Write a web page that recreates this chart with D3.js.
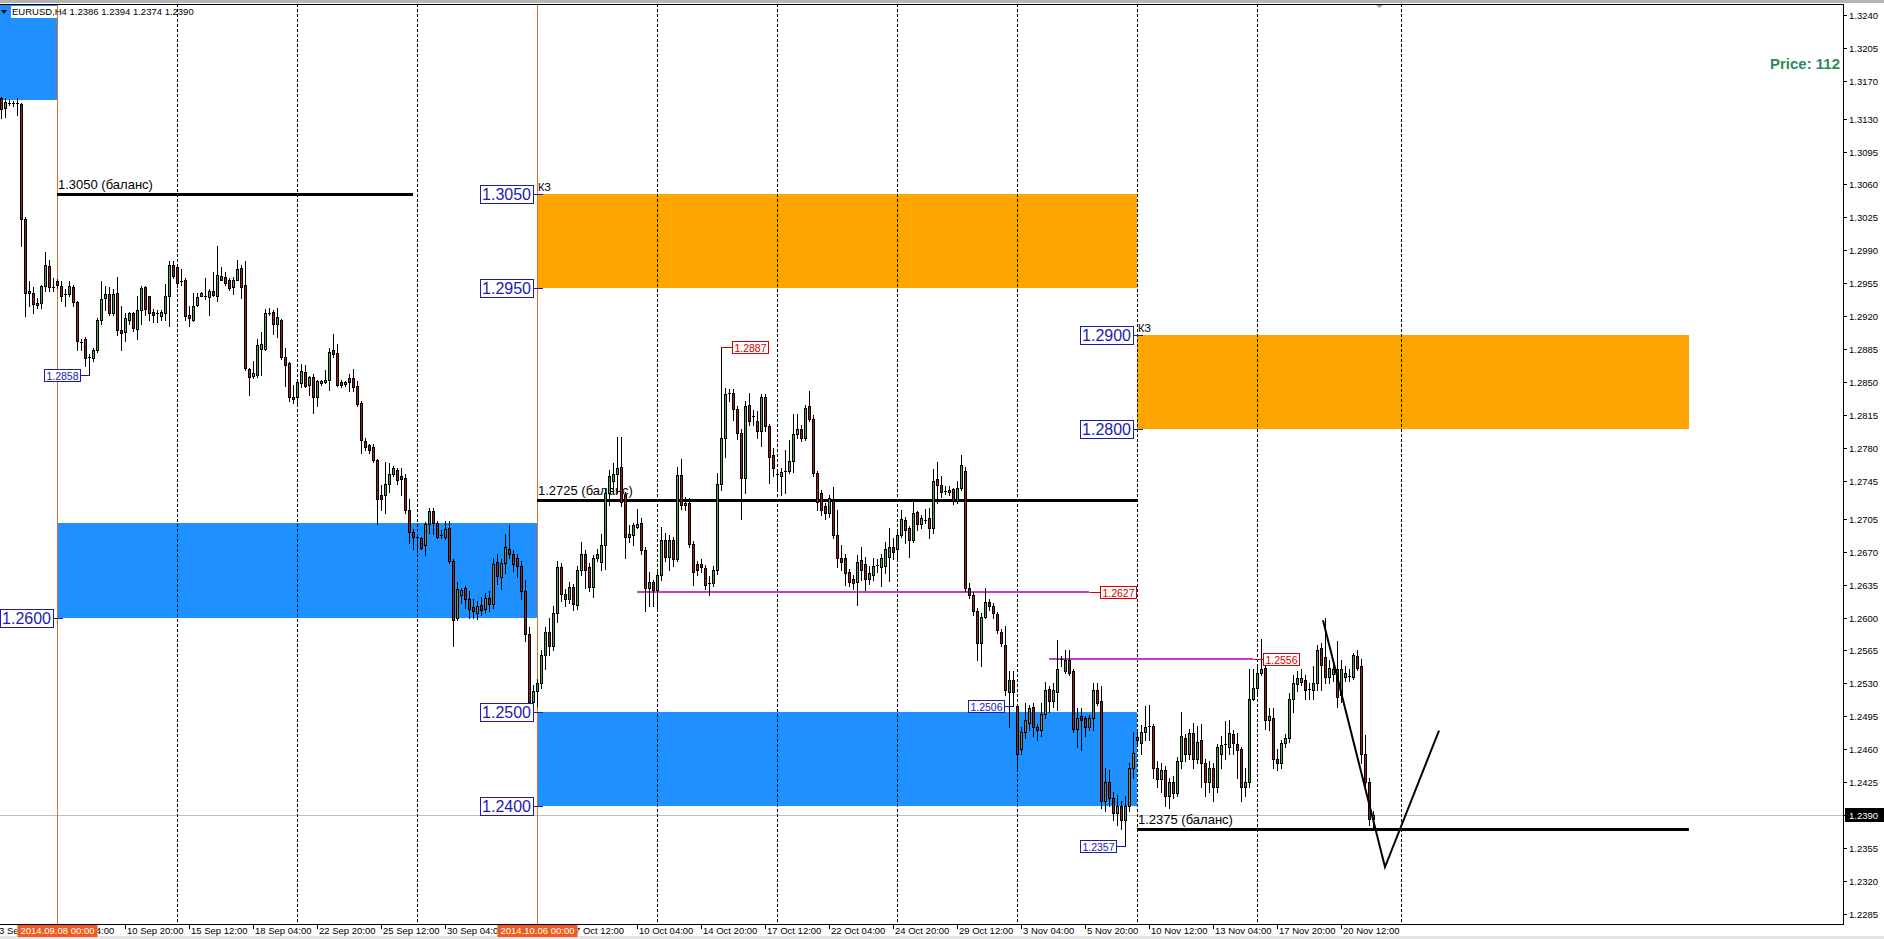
<!DOCTYPE html>
<meta charset="utf-8">
<style>
    body { margin: 0; background: #fff; }
    svg { display: block; font-family: "Liberation Sans", Arial, sans-serif; }
</style>
<svg width="1884" height="939"></svg>
<script src="https://d3js.org/d3.v7.min.js"></script>
<script>

// EURUSD H4, bar 0 = 3 Sep 2014 16:00, 6 bars a day, no weekend bars
var opens = [
1.3152,1.3141,1.3147,1.3146,1.3146,1.3145,1.3023,1.2945,1.2945,1.2932,
1.2934,1.2952,1.2973,1.2951,1.2957,1.2952,1.2943,1.2944,1.2951,1.2935,
1.2893,1.2896,1.2876,1.2876,1.2884,1.2916,1.2939,1.2944,1.2923,1.2945,
1.2905,1.2903,1.2916,1.2924,1.2906,1.2927,1.2951,1.2941,1.2925,1.2923,
1.2920,1.2924,1.2942,1.2974,1.2972,1.2957,1.2958,1.2921,1.2916,1.2932,
1.2942,1.2941,1.2940,1.2947,1.2942,1.2963,1.2962,1.2959,1.2951,1.2959,
1.2971,1.2953,1.2864,1.2857,1.2858,1.2885,1.2885,1.2923,1.2925,1.2912,
1.2916,1.2877,1.2870,1.2834,1.2834,1.2849,1.2861,1.2847,1.2856,1.2834,
1.2849,1.2850,1.2852,1.2884,1.2881,1.2850,1.2848,1.2854,1.2854,1.2846,
1.2828,1.2787,1.2783,1.2781,1.2767,1.2730,1.2730,1.2742,1.2752,1.2757,
1.2750,1.2748,1.2714,1.2691,1.2686,1.2684,1.2677,1.2699,1.2713,1.2700,
1.2687,1.2686,1.2695,1.2660,1.2599,1.2624,1.2631,1.2620,1.2611,1.2605,
1.2613,1.2609,1.2621,1.2614,1.2659,1.2643,1.2658,1.2673,1.2667,1.2663,
1.2655,1.2628,1.2582,1.2510,1.2522,1.2530,1.2560,1.2585,1.2570,1.2605,
1.2654,1.2625,1.2620,1.2632,1.2613,1.2650,1.2668,1.2654,1.2632,1.2663,
1.2659,1.2677,1.2732,1.2745,1.2752,1.2760,1.2730,1.2686,1.2688,1.2696,
1.2700,1.2672,1.2631,1.2638,1.2629,1.2645,1.2682,1.2664,1.2682,1.2662,
1.2751,1.2720,1.2722,1.2678,1.2657,1.2657,1.2653,1.2636,1.2637,1.2651,
1.2742,1.2791,1.2837,1.2838,1.2822,1.2796,1.2748,1.2826,1.2813,1.2809,
1.2798,1.2834,1.2803,1.2773,1.2752,1.2750,1.2755,1.2756,1.2766,1.2795,
1.2800,1.2791,1.2825,1.2811,1.2754,1.2732,1.2718,1.2711,1.2725,1.2688,
1.2663,1.2663,1.2648,1.2641,1.2638,1.2661,1.2657,1.2641,1.2645,1.2655,
1.2654,1.2655,1.2664,1.2675,1.2673,1.2688,1.2704,1.2695,1.2682,1.2712,
1.2699,1.2704,1.2706,1.2695,1.2747,1.2741,1.2734,1.2733,1.2736,1.2724,
1.2738,1.2756,1.2631,1.2624,1.2607,1.2573,1.2601,1.2616,1.2612,1.2604,
1.2585,1.2571,1.2521,1.2534,1.2506,1.2460,1.2478,1.2488,1.2505,1.2484,
1.2481,1.2498,1.2524,1.2511,1.2521,1.2556,1.2543,1.2555,1.2543,1.2482,
1.2495,1.2493,1.2484,1.2493,1.2523,1.2511,1.2405,1.2425,1.2408,1.2392,
1.2400,1.2385,1.2400,1.2440,1.2473,1.2467,1.2478,1.2484,1.2485,1.2440,
1.2428,1.2438,1.2410,1.2425,1.2414,1.2448,1.2472,1.2455,1.2477,1.2450,
1.2470,1.2445,1.2425,1.2440,1.2420,1.2455,1.2465,1.2463,1.2476,1.2466,
1.2460,1.2420,1.2425,1.2514,1.2525,1.2541,1.2546,1.2491,1.2493,1.2450,
1.2445,1.2467,1.2472,1.2514,1.2529,1.2532,1.2534,1.2523,1.2523,1.2530,
1.2568,1.2558,1.2537,1.2540,1.2545,1.2518,1.2537,1.2538,1.2537,1.2559,
1.2549,1.2455,1.2425,1.2386];

var highs = [
1.3153,1.3152,1.3150,1.3149,1.3152,1.3147,1.3025,1.2957,1.2951,1.2939,
1.2953,1.2988,1.2980,1.2961,1.2960,1.2957,1.2949,1.2957,1.2953,1.2936,
1.2896,1.2898,1.2880,1.2886,1.2918,1.2957,1.2952,1.2951,1.2949,1.2962,
1.2931,1.2923,1.2925,1.2925,1.2941,1.2952,1.2952,1.2942,1.2928,1.2927,
1.2927,1.2954,1.2979,1.2979,1.2974,1.2970,1.2961,1.2931,1.2945,1.2945,
1.2946,1.2961,1.2949,1.2967,1.2995,1.2972,1.2967,1.2961,1.2962,1.2980,
1.2974,1.2979,1.2865,1.2873,1.2896,1.2903,1.2928,1.2929,1.2927,1.2929,
1.2917,1.2886,1.2871,1.2847,1.2851,1.2869,1.2868,1.2857,1.2859,1.2852,
1.2852,1.2863,1.2886,1.2901,1.2891,1.2852,1.2851,1.2859,1.2864,1.2851,
1.2830,1.2791,1.2784,1.2784,1.2768,1.2741,1.2765,1.2764,1.2761,1.2759,
1.2759,1.2752,1.2726,1.2694,1.2689,1.2686,1.2701,1.2716,1.2716,1.2703,
1.2693,1.2703,1.2703,1.2662,1.2638,1.2631,1.2633,1.2628,1.2620,1.2618,
1.2622,1.2626,1.2628,1.2663,1.2668,1.2662,1.2689,1.2698,1.2672,1.2668,
1.2660,1.2640,1.2590,1.2528,1.2535,1.2565,1.2590,1.2600,1.2612,1.2660,
1.2658,1.2630,1.2638,1.2636,1.2655,1.2680,1.2672,1.2658,1.2666,1.2673,
1.2689,1.2736,1.2757,1.2764,1.2792,1.2792,1.2733,1.2698,1.2700,1.2715,
1.2706,1.2675,1.2648,1.2640,1.2651,1.2696,1.2690,1.2688,1.2686,1.2760,
1.2768,1.2728,1.2727,1.2681,1.2660,1.2662,1.2656,1.2644,1.2655,1.2753,
1.2887,1.2844,1.2843,1.2843,1.2825,1.2800,1.2830,1.2839,1.2820,1.2819,
1.2837,1.2837,1.2806,1.2780,1.2757,1.2759,1.2778,1.2789,1.2816,1.2816,
1.2805,1.2826,1.2841,1.2815,1.2756,1.2735,1.2722,1.2730,1.2739,1.2714,
1.2677,1.2667,1.2652,1.2645,1.2666,1.2675,1.2664,1.2655,1.2663,1.2662,
1.2668,1.2680,1.2695,1.2685,1.2691,1.2714,1.2707,1.2697,1.2723,1.2713,
1.2709,1.2715,1.2716,1.2758,1.2765,1.2750,1.2740,1.2740,1.2738,1.2745,
1.2773,1.2760,1.2637,1.2627,1.2610,1.2605,1.2631,1.2620,1.2615,1.2606,
1.2588,1.2591,1.2543,1.2543,1.2506,1.2484,1.2509,1.2507,1.2509,1.2487,
1.2509,1.2532,1.2527,1.2530,1.2576,1.2559,1.2566,1.2566,1.2545,1.2504,
1.2504,1.2495,1.2497,1.2530,1.2530,1.2527,1.2440,1.2438,1.2415,1.2412,
1.2405,1.2410,1.2445,1.2478,1.2478,1.2486,1.2506,1.2507,1.2487,1.2448,
1.2445,1.2442,1.2430,1.2432,1.2452,1.2500,1.2476,1.2482,1.2488,1.2485,
1.2487,1.2450,1.2448,1.2445,1.2466,1.2474,1.2490,1.2491,1.2481,1.2477,
1.2463,1.2440,1.2545,1.2545,1.2551,1.2577,1.2548,1.2504,1.2504,1.2460,
1.2470,1.2476,1.2520,1.2539,1.2543,1.2545,1.2539,1.2530,1.2548,1.2571,
1.2573,1.2599,1.2555,1.2552,1.2575,1.2555,1.2548,1.2545,1.2562,1.2566,
1.2556,1.2475,1.2430,1.2394];

var lows = [
1.3131,1.3132,1.3144,1.3143,1.3134,1.2995,1.2920,1.2931,1.2923,1.2929,
1.2929,1.2947,1.2947,1.2947,1.2950,1.2936,1.2931,1.2942,1.2931,1.2884,
1.2884,1.2867,1.2858,1.2873,1.2882,1.2912,1.2927,1.2921,1.2921,1.2900,
1.2884,1.2894,1.2912,1.2904,1.2896,1.2912,1.2921,1.2916,1.2914,1.2914,
1.2916,1.2916,1.2910,1.2961,1.2951,1.2953,1.2916,1.2910,1.2915,1.2931,
1.2941,1.2938,1.2921,1.2942,1.2936,1.2958,1.2953,1.2948,1.2944,1.2958,
1.2939,1.2863,1.2836,1.2854,1.2856,1.2858,1.2884,1.2921,1.2901,1.2898,
1.2875,1.2846,1.2830,1.2828,1.2825,1.2845,1.2845,1.2836,1.2817,1.2825,
1.2847,1.2849,1.2842,1.2877,1.2846,1.2845,1.2846,1.2841,1.2841,1.2825,
1.2775,1.2778,1.2775,1.2765,1.2699,1.2714,1.2711,1.2733,1.2750,1.2742,
1.2730,1.2711,1.2679,1.2673,1.2670,1.2673,1.2666,1.2690,1.2689,1.2685,
1.2684,1.2683,1.2658,1.2570,1.2597,1.2615,1.2610,1.2600,1.2600,1.2598,
1.2603,1.2605,1.2607,1.2610,1.2636,1.2630,1.2647,1.2663,1.2649,1.2643,
1.2620,1.2575,1.2501,1.2505,1.2506,1.2525,1.2545,1.2560,1.2565,1.2595,
1.2618,1.2612,1.2615,1.2608,1.2609,1.2645,1.2631,1.2628,1.2622,1.2660,
1.2650,1.2652,1.2720,1.2735,1.2732,1.2718,1.2663,1.2680,1.2677,1.2695,
1.2668,1.2607,1.2612,1.2612,1.2610,1.2640,1.2660,1.2650,1.2655,1.2660,
1.2715,1.2714,1.2675,1.2635,1.2645,1.2648,1.2630,1.2624,1.2633,1.2646,
1.2735,1.2771,1.2830,1.2810,1.2790,1.2705,1.2732,1.2805,1.2805,1.2791,
1.2782,1.2798,1.2743,1.2750,1.2734,1.2730,1.2732,1.2754,1.2755,1.2791,
1.2787,1.2789,1.2809,1.2750,1.2714,1.2709,1.2705,1.2707,1.2684,1.2654,
1.2650,1.2635,1.2634,1.2630,1.2613,1.2640,1.2629,1.2636,1.2640,1.2648,
1.2634,1.2647,1.2639,1.2662,1.2663,1.2686,1.2679,1.2664,1.2680,1.2693,
1.2695,1.2700,1.2685,1.2690,1.2722,1.2728,1.2731,1.2730,1.2721,1.2722,
1.2735,1.2628,1.2621,1.2603,1.2555,1.2548,1.2599,1.2608,1.2600,1.2584,
1.2570,1.2518,1.2484,1.2506,1.2440,1.2455,1.2472,1.2481,1.2474,1.2470,
1.2474,1.2493,1.2500,1.2505,1.2502,1.2548,1.2541,1.2539,1.2478,1.2463,
1.2459,1.2474,1.2481,1.2481,1.2507,1.2398,1.2395,1.2400,1.2385,1.2380,
1.2375,1.2357,1.2395,1.2430,1.2466,1.2455,1.2470,1.2470,1.2430,1.2420,
1.2415,1.2400,1.2398,1.2408,1.2410,1.2440,1.2448,1.2450,1.2440,1.2445,
1.2420,1.2410,1.2415,1.2405,1.2415,1.2440,1.2450,1.2455,1.2455,1.2430,
1.2405,1.2410,1.2420,1.2512,1.2520,1.2539,1.2482,1.2481,1.2440,1.2438,
1.2440,1.2462,1.2468,1.2500,1.2522,1.2528,1.2513,1.2513,1.2513,1.2523,
1.2523,1.2530,1.2530,1.2533,1.2505,1.2510,1.2533,1.2533,1.2535,1.2544,
1.2445,1.2420,1.2380,1.2374];

var closes = [
1.3140,1.3148,1.3146,1.3146,1.3145,1.3023,1.2945,1.2947,1.2933,1.2934,
1.2952,1.2974,1.2951,1.2951,1.2953,1.2942,1.2944,1.2952,1.2935,1.2894,
1.2892,1.2876,1.2877,1.2884,1.2916,1.2938,1.2944,1.2923,1.2944,1.2905,
1.2902,1.2918,1.2923,1.2908,1.2927,1.2950,1.2928,1.2923,1.2921,1.2922,
1.2925,1.2942,1.2974,1.2963,1.2955,1.2956,1.2920,1.2918,1.2931,1.2940,
1.2945,1.2940,1.2947,1.2943,1.2964,1.2959,1.2955,1.2950,1.2959,1.2970,
1.2951,1.2865,1.2855,1.2860,1.2890,1.2891,1.2923,1.2924,1.2912,1.2919,
1.2877,1.2868,1.2834,1.2832,1.2850,1.2862,1.2846,1.2856,1.2834,1.2851,
1.2851,1.2852,1.2882,1.2880,1.2847,1.2847,1.2850,1.2850,1.2845,1.2827,
1.2789,1.2781,1.2778,1.2767,1.2726,1.2726,1.2742,1.2752,1.2759,1.2746,
1.2747,1.2714,1.2691,1.2686,1.2685,1.2674,1.2699,1.2713,1.2700,1.2686,
1.2688,1.2694,1.2660,1.2597,1.2630,1.2629,1.2620,1.2609,1.2607,1.2612,
1.2608,1.2621,1.2614,1.2657,1.2644,1.2658,1.2675,1.2668,1.2657,1.2655,
1.2628,1.2582,1.2510,1.2522,1.2530,1.2560,1.2585,1.2570,1.2605,1.2654,
1.2625,1.2620,1.2632,1.2614,1.2650,1.2668,1.2650,1.2632,1.2663,1.2668,
1.2677,1.2732,1.2750,1.2752,1.2759,1.2723,1.2686,1.2689,1.2698,1.2699,
1.2672,1.2631,1.2638,1.2629,1.2645,1.2682,1.2664,1.2682,1.2662,1.2751,
1.2720,1.2722,1.2678,1.2648,1.2650,1.2654,1.2635,1.2637,1.2651,1.2742,
1.2791,1.2837,1.2839,1.2821,1.2796,1.2748,1.2825,1.2809,1.2814,1.2798,
1.2834,1.2803,1.2771,1.2759,1.2752,1.2755,1.2756,1.2766,1.2795,1.2800,
1.2791,1.2823,1.2811,1.2754,1.2723,1.2714,1.2711,1.2727,1.2688,1.2663,
1.2659,1.2647,1.2638,1.2637,1.2659,1.2650,1.2641,1.2647,1.2655,1.2656,
1.2663,1.2673,1.2675,1.2670,1.2688,1.2705,1.2693,1.2682,1.2711,1.2699,
1.2706,1.2704,1.2695,1.2745,1.2741,1.2733,1.2734,1.2735,1.2724,1.2738,
1.2762,1.2631,1.2624,1.2607,1.2573,1.2601,1.2617,1.2612,1.2605,1.2587,
1.2573,1.2523,1.2534,1.2521,1.2455,1.2478,1.2491,1.2504,1.2484,1.2481,
1.2498,1.2523,1.2511,1.2523,1.2545,1.2555,1.2555,1.2541,1.2482,1.2493,
1.2491,1.2484,1.2493,1.2523,1.2509,1.2405,1.2425,1.2408,1.2392,1.2400,
1.2385,1.2400,1.2440,1.2456,1.2470,1.2478,1.2484,1.2485,1.2440,1.2428,
1.2438,1.2410,1.2425,1.2414,1.2448,1.2474,1.2455,1.2477,1.2450,1.2468,
1.2445,1.2425,1.2440,1.2420,1.2462,1.2465,1.2466,1.2477,1.2467,1.2459,
1.2420,1.2425,1.2514,1.2525,1.2541,1.2545,1.2491,1.2495,1.2450,1.2445,
1.2467,1.2472,1.2514,1.2530,1.2536,1.2536,1.2523,1.2524,1.2530,1.2566,
1.2550,1.2537,1.2546,1.2545,1.2516,1.2545,1.2541,1.2538,1.2560,1.2546,
1.2455,1.2425,1.2386,1.2390];

// time axis labels (bar index -> text)
var timeTickBars = [-1, 15, 31, 47, 63, 79, 95, 111, 127, 143, 159, 175, 191, 207, 223, 239, 255, 271, 287, 303, 319, 335];
var timeTickLabels = ["3 Sep 12:00", "8 Sep 04:00", "10 Sep 20:00", "15 Sep 12:00", "18 Sep 04:00", "22 Sep 20:00",
    "25 Sep 12:00", "30 Sep 04:00", "2 Oct 20:00", "7 Oct 12:00", "10 Oct 04:00", "14 Oct 20:00", "17 Oct 12:00",
    "22 Oct 04:00", "24 Oct 20:00", "29 Oct 12:00", "3 Nov 04:00", "5 Nov 20:00", "10 Nov 12:00", "13 Nov 04:00",
    "17 Nov 20:00", "20 Nov 12:00"];

var priceTicks = [1.3240, 1.3205, 1.3170, 1.3130, 1.3095, 1.3060, 1.3025, 1.2990, 1.2955, 1.2920, 1.2885, 1.2850,
    1.2815, 1.2780, 1.2745, 1.2705, 1.2670, 1.2635, 1.2600, 1.2565, 1.2530, 1.2495, 1.2460, 1.2425, 1.2390,
    1.2355, 1.2320, 1.2285];

// weekly separators (Monday 00:00 bars)
var gridBars = [44, 74, 104, 164, 194, 224, 254, 284, 314, 350];

// vertical lines with their date labels
var vLineBars = [14, 134];
var vLineLabels = ["2014.09.08 00:00", "2014.10.06 00:00"];

// zones: kind "buy" / "sell"
var zoneFrom = [-20, 14, 134, 134, 284];
var zoneTo = [14, 134, 284, 284, 422];
var zoneHigh = [1.3300, 1.2700, 1.3050, 1.2500, 1.2900];
var zoneLow = [1.3150, 1.2600, 1.2950, 1.2400, 1.2800];
var zoneKind = ["buy", "buy", "sell", "buy", "sell"];

// edge price labels of zones
var edgeLabelPrice = [1.2600, 1.3050, 1.2950, 1.2500, 1.2400, 1.2900, 1.2800];
var edgeLabelBar = [14, 134, 134, 134, 134, 284, 284];

// balance lines
var balanceFrom = [14, 134, 284];
var balanceTo = [103, 284, 422];
var balancePrice = [1.3050, 1.2725, 1.2375];

// magenta levels
var levelFrom = [159, 262];
var levelTo = [272, 313];
var levelPrice = [1.2627, 1.2556];

// swing marks
var highMarkBar = [180];
var highMarkPrice = [1.2887];
var lowMarkBar = [22, 253, 281];
var lowMarkPrice = [1.2858, 1.2506, 1.2357];

// hand drawn path
var pathBars = [330.5, 346, 359.5];
var pathPrices = [1.2597, 1.2335, 1.2480];

var symbolInfo = "EURUSD,H4";
var lastPrice = closes[closes.length - 1];
var priceInfo = "Price: 112";

var svg = d3.select("svg"),
    width = +svg.attr("width"),
    height = +svg.attr("height");

var plot = { left: 0, right: 1843, top: 4, bottom: 924 };

var x = d3.scaleLinear().domain([0, 100]).range([1, 401]);
var y = d3.scaleLinear().domain([1.2285, 1.3240]).range([914.1, 15]);
function yr(p) { return Math.round(y(p)); }

var BLUE = "#1e90ff", ORANGE = "#ffa500", LABEL_BLUE = "#1c1caa", LABEL_RED = "#d40000";

// frame
svg.append("rect").attr("width", width).attr("height", height).attr("fill", "#fff");
svg.append("rect").attr("x", 0).attr("y", 0).attr("width", width).attr("height", 3).attr("fill", "#b4b4b4");
svg.append("rect").attr("x", 0).attr("y", 936).attr("width", width).attr("height", 3).attr("fill", "#e4e4e4");

var defs = svg.append("defs");
defs.append("clipPath").attr("id", "plotclip")
    .append("rect")
    .attr("x", plot.left).attr("y", plot.top)
    .attr("width", plot.right - plot.left).attr("height", plot.bottom - plot.top);

var g = svg.append("g").attr("clip-path", "url(#plotclip)");

// zones
g.selectAll("rect.zone")
    .data(d3.range(zoneFrom.length))
    .enter()
    .append("rect")
    .attr("x", function(i) { return Math.round(x(zoneFrom[i])); })
    .attr("width", function(i) { return Math.round(x(zoneTo[i])) - Math.round(x(zoneFrom[i])); })
    .attr("y", function(i) { return yr(zoneHigh[i]); })
    .attr("height", function(i) { return yr(zoneLow[i]) - yr(zoneHigh[i]); })
    .attr("fill", function(i) { return zoneKind[i] === "buy" ? BLUE : ORANGE; });

// current price line
g.append("line")
    .attr("x1", plot.left).attr("x2", plot.right)
    .attr("y1", yr(lastPrice) + 0.5).attr("y2", yr(lastPrice) + 0.5)
    .attr("stroke", "#c0c0c0");

// weekly grid
g.selectAll("line.grid")
    .data(gridBars)
    .enter()
    .append("line")
    .attr("x1", function(d) { return x(d) + 0.5; })
    .attr("x2", function(d) { return x(d) + 0.5; })
    .attr("y1", plot.top).attr("y2", plot.bottom)
    .attr("stroke", "#000")
    .attr("stroke-dasharray", "3,2");

// vertical lines
g.selectAll("line.vline")
    .data(vLineBars)
    .enter()
    .append("line")
    .attr("x1", function(d) { return x(d) + 0.5; })
    .attr("x2", function(d) { return x(d) + 0.5; })
    .attr("y1", plot.top).attr("y2", plot.bottom)
    .attr("stroke", "#e0702c");

// balance lines
balancePrice.forEach(function(p, i) {
    g.append("line")
        .attr("x1", x(balanceFrom[i])).attr("x2", x(balanceTo[i]))
        .attr("y1", yr(p) + 0.5).attr("y2", yr(p) + 0.5)
        .attr("stroke", "#000").attr("stroke-width", 3);
    g.append("text")
        .attr("x", x(balanceFrom[i]) + 1)
        .attr("y", yr(p) - 5)
        .attr("font-size", 13)
        .attr("fill", "#000")
        .text(p.toFixed(4) + " (баланс)");
});

// magenta levels
levelPrice.forEach(function(p, i) {
    g.append("line")
        .attr("x1", x(levelFrom[i])).attr("x2", x(levelTo[i]))
        .attr("y1", yr(p)).attr("y2", yr(p))
        .attr("stroke", "#c83cc8").attr("stroke-width", 2);
});

// candles
var bars = d3.range(opens.length).map(function(i) {
    return { i: i, o: opens[i], h: highs[i], l: lows[i], c: closes[i] };
});

var candle = g.append("g").attr("class", "candles")
    .selectAll("g")
    .data(bars)
    .enter()
    .append("g");

candle.append("line")
    .attr("x1", function(d) { return x(d.i) + 0.5; })
    .attr("x2", function(d) { return x(d.i) + 0.5; })
    .attr("y1", function(d) { return yr(d.h); })
    .attr("y2", function(d) { return yr(d.l) + 1; })
    .attr("stroke", "#000");

candle.each(function(d) {
    var top = yr(Math.max(d.o, d.c)), bot = yr(Math.min(d.o, d.c));
    var sel = d3.select(this);
    if (bot - top < 2) {
        sel.append("line")
            .attr("x1", x(d.i) - 1).attr("x2", x(d.i) + 2)
            .attr("y1", top + 0.5).attr("y2", top + 0.5)
            .attr("stroke", "#000");
    } else {
        sel.append("rect")
            .attr("x", x(d.i) - 0.5).attr("width", 2)
            .attr("y", top + 0.5).attr("height", bot - top)
            .attr("fill", d.c >= d.o ? "#48a048" : "#9a2020")
            .attr("stroke", "#000");
    }
});

// drawn path
g.append("path")
    .datum(d3.range(pathBars.length))
    .attr("d", d3.line()
        .x(function(i) { return x(pathBars[i]); })
        .y(function(i) { return y(pathPrices[i]); }))
    .attr("fill", "none")
    .attr("stroke", "#000")
    .attr("stroke-width", 2);

// "КЗ" tags on sell zones
d3.range(zoneFrom.length).filter(function(i) { return zoneKind[i] === "sell"; }).forEach(function(i) {
    g.append("text")
        .attr("x", x(zoneFrom[i]) + 1)
        .attr("y", yr(zoneHigh[i]) - 3)
        .attr("font-size", 11)
        .text("КЗ");
});

// zone edge labels
edgeLabelPrice.forEach(function(p, i) {
    var right = Math.round(x(edgeLabelBar[i])) - 4, yy = yr(p);
    g.append("line")
        .attr("x1", right).attr("x2", x(edgeLabelBar[i]) + 6)
        .attr("y1", yy + 0.5).attr("y2", yy + 0.5)
        .attr("stroke", LABEL_BLUE);
    g.append("rect")
        .attr("x", right - 53 + 0.5).attr("y", yy - 9 + 0.5)
        .attr("width", 53).attr("height", 18)
        .attr("fill", "#fff").attr("stroke", LABEL_BLUE);
    g.append("text")
        .attr("x", right - 26.5).attr("y", yy + 6)
        .attr("text-anchor", "middle")
        .attr("font-size", 16)
        .attr("fill", LABEL_BLUE)
        .text(p.toFixed(4));
});

// small swing labels
function markLabel(bar, p, color, side) {
    var bx = x(bar) + 0.5, yy = yr(p);
    var bw = 36, left = side > 0 ? Math.round(bx) + 10 : Math.round(bx) - 10 - bw;
    g.append("line")
        .attr("x1", bx).attr("x2", side > 0 ? left : left + bw)
        .attr("y1", yy + 0.5).attr("y2", yy + 0.5)
        .attr("stroke", color);
    g.append("rect")
        .attr("x", left + 0.5).attr("y", yy - 6 + 0.5)
        .attr("width", bw).attr("height", 12)
        .attr("fill", "#fff").attr("stroke", color);
    g.append("text")
        .attr("x", left + bw / 2 + 0.5).attr("y", yy + 4.5)
        .attr("text-anchor", "middle")
        .attr("font-size", 10.5)
        .attr("fill", color)
        .text(p.toFixed(4));
}
highMarkBar.forEach(function(b, i) { markLabel(b, highMarkPrice[i], LABEL_RED, 1); });
levelPrice.forEach(function(p, i) { markLabel(levelTo[i], p, LABEL_RED, 1); });
lowMarkBar.forEach(function(b, i) { markLabel(b, lowMarkPrice[i], LABEL_BLUE, -1); });

// header
svg.append("path")
    .attr("d", "M1,10 L7,10 L4,14 Z")
    .attr("fill", "#000");
svg.append("rect")
    .attr("x", 11).attr("y", 6).attr("width", 46).attr("height", 12)
    .attr("fill", "#fff");
svg.append("text")
    .attr("x", 12).attr("y", 15)
    .attr("font-size", 9.5)
    .text(symbolInfo + "  " + [opens[opens.length - 1], highs[highs.length - 1], lows[lows.length - 1], lastPrice]
        .map(function(v) { return v.toFixed(4); }).join(" "));

svg.append("text")
    .attr("x", 1840).attr("y", 69)
    .attr("text-anchor", "end")
    .attr("font-size", 15)
    .attr("font-weight", "bold")
    .attr("fill", "#2e8b57")
    .text(priceInfo);

// chart shift marker
svg.append("path")
    .attr("d", "M1375,4 L1384,4 L1379.5,8 Z")
    .attr("fill", "#a0a0a0");

// borders
svg.append("line").attr("x1", 0).attr("x2", plot.right + 1).attr("y1", 4.5).attr("y2", 4.5).attr("stroke", "#000");
svg.append("line").attr("x1", plot.right + 0.5).attr("x2", plot.right + 0.5).attr("y1", 4).attr("y2", plot.bottom + 1).attr("stroke", "#000");
svg.append("line").attr("x1", 0).attr("x2", plot.right + 1).attr("y1", plot.bottom + 0.5).attr("y2", plot.bottom + 0.5).attr("stroke", "#000");

// price axis
var pa = svg.append("g");
pa.selectAll("line")
    .data(priceTicks)
    .enter()
    .append("line")
    .attr("x1", plot.right + 1).attr("x2", plot.right + 4)
    .attr("y1", function(d) { return yr(d) + 0.5; })
    .attr("y2", function(d) { return yr(d) + 0.5; })
    .attr("stroke", "#000");
pa.selectAll("text")
    .data(priceTicks)
    .enter()
    .append("text")
    .attr("x", 1849)
    .attr("y", function(d) { return yr(d) + 4; })
    .attr("font-size", 9.5)
    .text(function(d) { return d.toFixed(4); });

pa.append("rect")
    .attr("x", 1845).attr("y", yr(lastPrice) - 7)
    .attr("width", 39).attr("height", 14)
    .attr("fill", "#000");
pa.append("text")
    .attr("x", 1849).attr("y", yr(lastPrice) + 4)
    .attr("font-size", 9.5)
    .attr("fill", "#fff")
    .text(lastPrice.toFixed(4));

// time axis: labels partly covered by the date boxes are clipped around them
var boxHalf = 40;
var axisClip = defs.append("clipPath").attr("id", "timeclip");
var edges = [0].concat(vLineBars.map(function(b) { return x(b) + 0.5 - boxHalf; }));
var ends = vLineBars.map(function(b) { return x(b) + 0.5 + boxHalf; }).concat([plot.right]);
edges.forEach(function(e, k) {
    axisClip.append("rect")
        .attr("x", k === 0 ? -10 : ends[k - 1]).attr("y", plot.bottom)
        .attr("width", (k === 0 ? edges[1] + 10 : (k < edges.length - 1 ? edges[k + 1] : ends[ends.length - 1]) - ends[k - 1]))
        .attr("height", height - plot.bottom);
});

var ta = svg.append("g");
var tl = ta.append("g").attr("clip-path", "url(#timeclip)");
timeTickBars.forEach(function(b, i) {
    tl.append("line")
        .attr("x1", x(b) + 0.5).attr("x2", x(b) + 0.5)
        .attr("y1", plot.bottom + 1).attr("y2", plot.bottom + 5)
        .attr("stroke", "#000");
    tl.append("text")
        .attr("x", x(b) + 2).attr("y", 934)
        .attr("font-size", 9.5)
        .text(timeTickLabels[i]);
});
vLineBars.forEach(function(b, i) {
    var cx = x(b) + 0.5;
    ta.append("rect")
        .attr("x", cx - boxHalf).attr("y", plot.bottom + 1)
        .attr("width", boxHalf * 2).attr("height", 12)
        .attr("fill", "#f25a1e");
    ta.append("text")
        .attr("x", cx).attr("y", 934)
        .attr("text-anchor", "middle")
        .attr("font-size", 9.5)
        .attr("fill", "#fff")
        .text(vLineLabels[i]);
});

</script>
